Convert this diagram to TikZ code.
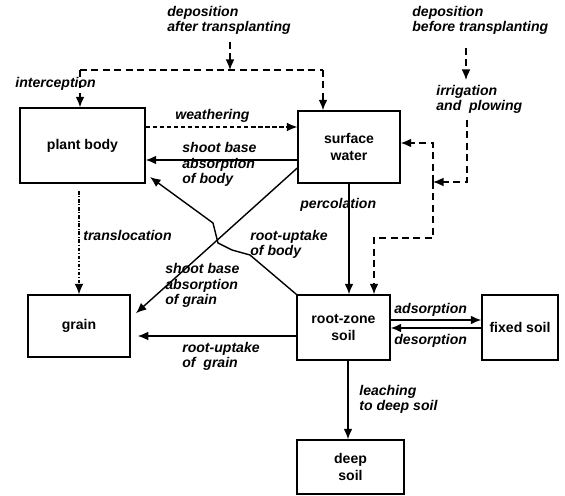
\documentclass[tikz,border=0pt]{standalone}
\usepackage{fontspec}
\setmainfont{Liberation Sans}
\usetikzlibrary{arrows.meta}

\tikzset{
  box/.style={draw,line width=0.8pt,align=center,inner sep=0pt,
    font=\bfseries\fontsize{8}{9.5}\selectfont},
  lab/.style={anchor=base west,align=left,inner sep=0pt,
    font=\bfseries\itshape\fontsize{8}{9}\selectfont},
  flow/.style={line width=0.8pt,-{Latex[length=6pt,width=5pt]}},
  depflow/.style={flow,dash pattern=on 4pt off 2.5pt},
  depline/.style={line width=0.8pt,dash pattern=on 4pt off 2.5pt},
  weathflow/.style={flow,line width=0.6pt,dash pattern=on 2.5pt off 1.5pt},
  transflow/.style={flow,line width=0.6pt,dash pattern=on 2pt off 1pt on 0.6pt off 1pt}
}

\begin{document}
\begin{tikzpicture}[x=0.02cm,y=-0.02cm]
    \useasboundingbox (0,0) rectangle (565,496);
    % compartments
    \node[box,minimum width=2.5cm,minimum height=1.5cm] (plantBody) at (82.5,145.5) {plant body};
    \node[box,minimum width=2.04cm,minimum height=1.44cm] (surfWater) at (349,147) {surface\\ water};
    \node[box,minimum width=2.04cm,minimum height=1.24cm] (grainBox) at (79,326) {grain};
    \node[box,minimum width=1.86cm,minimum height=1.3cm] (rootSoil) at (343.5,327.5) {root-zone\\ soil};
    \node[box,minimum width=1.52cm,minimum height=1.3cm] (fixedSoil) at (520,327.5) {fixed soil};
    \node[box,minimum width=2.14cm,minimum height=1.08cm] (deepSoil) at (350.5,467) {deep\\ soil};

    \coordinate (cDepA) at (230,42);
    \coordinate (cDepJ) at (230,70);
    \coordinate (cIntc) at (80,70);
    \coordinate (cSurfIn) at (323,70);
    \coordinate (cDepB) at (466,48);
    \coordinate (cIrrTop) at (466,80);
    \coordinate (cIrrA) at (467,120);
    \coordinate (cIrrJ) at (433,182);
    \coordinate (cSoilIn) at (374,238);
    \coordinate (cTransl) at (79,191);
    \coordinate (cPlantTip) at (150,177);

    % deposition
    \draw[depflow] (cDepA) -- (cDepJ);
    \draw[depline] (cIntc) -- (cSurfIn);
    \draw[depflow] (cIntc) -- (cIntc |- plantBody.north);
    \draw[depflow] (cSurfIn) -- (cSurfIn |- surfWater.north);
    \draw[depflow] (cDepB) -- (cIrrTop);
    \draw[depflow] (cIrrA) |- (cIrrJ);
    \draw[depflow] (cIrrJ) |- (surfWater.east |- 0,143);
    \draw[depflow] (cIrrJ) |- (cSoilIn) -- (rootSoil.north -| cSoilIn);

    % transfers
    \draw[weathflow] (plantBody.east |- 0,127) -- (surfWater.west |- 0,127);
    \draw[flow] (surfWater.west |- 0,160) -- (plantBody.east |- 0,160);
    \draw[flow,shorten >=4pt] (surfWater.west |- 0,168) -- (grainBox.east |- 0,318);
    \draw[flow] (rootSoil.north west) -- (250,255) -- (232,250) -- (218,243) -- (213,223) -- (cPlantTip);
    \draw[transflow] (cTransl) -- (grainBox.north);
    \draw[flow,shorten >=4pt] (rootSoil.west |- 0,336) -- (grainBox.east |- 0,336);
    \draw[flow] (surfWater.south) -- (surfWater.south |- rootSoil.north);
    \draw[flow] (rootSoil.east |- 0,320) -- (fixedSoil.west |- 0,320);
    \draw[flow] (fixedSoil.west |- 0,328) -- (rootSoil.east |- 0,328);
    \draw[flow] (rootSoil.south -| 348,0) -- (deepSoil.north -| 348,0);

    % labels (base = last line)
    \node[lab] (lDepA) at (167,32) {deposition\\after transplanting};
    \node[lab] (lDepB) at (412,32) {deposition\\before transplanting};
    \node[lab] (lIntc) at (15,88) {interception};
    \node[lab] (lIrr) at (436,111) {irrigation\\and\ \ plowing};
    \node[lab] (lWeath) at (175,120) {weathering};
    \node[lab] (lShootB) at (182,184) {shoot base\\absorption\\of body};
    \node[lab] (lPerc) at (300,209) {percolation};
    \node[lab] (lTransl) at (83,241) {translocation};
    \node[lab] (lRootB) at (250,256) {root-uptake\\of body};
    \node[lab] (lShootG) at (165,305) {shoot base\\absorption\\of grain};
    \node[lab] (lAds) at (394,314) {adsorption};
    \node[lab] (lDes) at (394,345) {desorption};
    \node[lab] (lRootG) at (182,368) {root-uptake\\of\ \ grain};
    \node[lab] (lLeach) at (359,411) {leaching\\to deep soil};

\end{tikzpicture}
\end{document}
